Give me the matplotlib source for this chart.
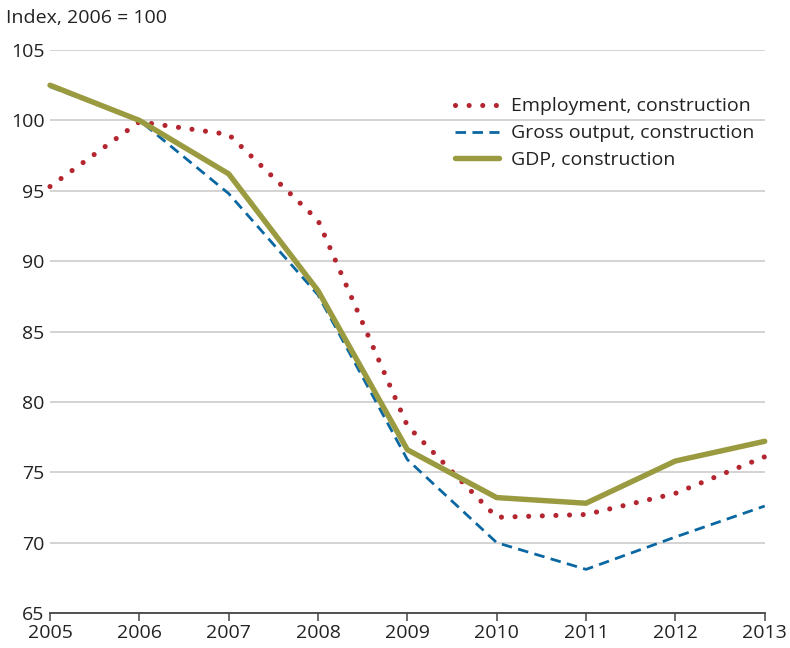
import matplotlib.pyplot as plt

years = [2005, 2006, 2007, 2008, 2009, 2010, 2011, 2012, 2013]
employment = [95.3, 99.9, 99.0, 92.9, 78.3, 71.8, 72.0, 73.5, 76.1]
gross_output = [102.4, 100.0, 94.8, 87.6, 75.9, 70.0, 68.1, 70.4, 72.6]
gdp = [102.5, 100.0, 96.2, 87.9, 76.6, 73.2, 72.8, 75.8, 77.2]
yticks = [65, 70, 75, 80, 85, 90, 95, 100, 105]

plt.rcParams['font.family'] = ['Open Sans', 'DejaVu Sans']

fig = plt.figure(figsize=(7.9, 6.48), dpi=100)
ax = fig.add_axes([0.0633, 0.054, 0.9047, 0.8688])

# lines
ax.plot(years, employment, color='#b3262f', lw=3.7, linestyle=(0, (0.001, 2.65)),
        dash_capstyle='round', label='Employment, construction', clip_on=False)
ax.plot(years, gross_output, color='#0b67a1', lw=2.0, linestyle=(0, (3.8, 2.3)),
        label='Gross output, construction', clip_on=False)
ax.plot(years, gdp, color='#9a9a40', lw=3.9, solid_capstyle='round',
        label='GDP, construction', clip_on=False)

ax.set_xlim(2005, 2013)
ax.set_ylim(65, 105)
ax.set_xticks(years)
ax.set_yticks(yticks)
ax.grid(axis='y', color='#c8c8c8', lw=1.1)
ax.set_axisbelow(True)
for s in ['top', 'right', 'left']:
    ax.spines[s].set_visible(False)
ax.spines['bottom'].set_color('#444444')
ax.spines['bottom'].set_linewidth(1.3)
ax.tick_params(axis='x', direction='out', length=6, width=1.1, color='#444444',
               labelsize=14, pad=2, labelcolor='#222222')
ax.tick_params(axis='y', length=0, labelsize=14, pad=4, labelcolor='#222222')

fig.text(0.008, 0.972, 'Index, 2006 = 100', fontsize=14, color='#222222', va='center')

ax.legend(loc='upper right', bbox_to_anchor=(1.01, 0.947), frameon=False, fontsize=14,
          handlelength=2.3, handletextpad=0.6, labelspacing=0.46, labelcolor='#222222')

fig.savefig('out.png', dpi=100)
